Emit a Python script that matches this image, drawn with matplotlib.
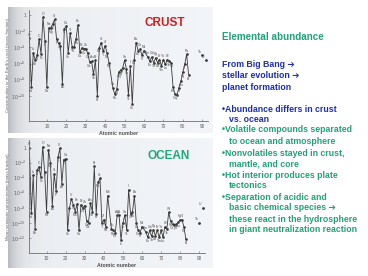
import numpy as np
import matplotlib
matplotlib.use('Agg')
import matplotlib.pyplot as plt

W, H = 368, 276

# element symbols Z = 1..83
symbols = ['H', 'He', 'Li', 'Be', 'B', 'C', 'N', 'O', 'F', 'Ne',
           'Na', 'Mg', 'Al', 'Si', 'P', 'S', 'Cl', 'Ar', 'K', 'Ca',
           'Sc', 'Ti', 'V', 'Cr', 'Mn', 'Fe', 'Co', 'Ni', 'Cu', 'Zn',
           'Ga', 'Ge', 'As', 'Se', 'Br', 'Kr', 'Rb', 'Sr', 'Y', 'Zr',
           'Nb', 'Mo', 'Tc', 'Ru', 'Rh', 'Pd', 'Ag', 'Cd', 'In', 'Sn',
           'Sb', 'Te', 'I', 'Xe', 'Cs', 'Ba', 'La', 'Ce', 'Pr', 'Nd',
           'Pm', 'Sm', 'Eu', 'Gd', 'Tb', 'Dy', 'Ho', 'Er', 'Tm', 'Yb',
           'Lu', 'Hf', 'Ta', 'W', 'Re', 'Os', 'Ir', 'Pt', 'Au', 'Hg',
           'Tl', 'Pb', 'Bi']

# log10 mass fraction (nan = not shown)
crust_log = [-2.9, -8.9, -4.7, -5.6, -5.0, -3.0, -4.8, -0.3, -3.2, -8.9,
             -1.6, -1.6, -1.1, -0.55, -3.0, -3.5, -3.8, -8.5, -1.7, -1.4,
             -4.7, -2.25, -3.9, -4.0, -3.0, -1.25, -4.6, -4.1, -4.2, -4.15,
             -4.7, -5.8, -5.7, -7.3, -5.6, -10.0, -4.05, -3.4, -4.5, -3.8,
             -4.7, -5.9, np.nan, -9.0, -9.8, -9.2, -7.1, -6.8, -6.6, -5.6,
             -6.7, -9.9, -6.3, -11.0, -5.5, -3.4, -4.4, -4.2, -5.0, -4.4,
             np.nan, -5.2, -5.7, -5.2, -5.9, -5.3, -5.9, -5.5, -6.3, -5.5,
             -6.1, -5.5, -5.7, -5.9, -8.9, -9.8, -9.9, -9.0, -8.2, -7.1,
             -6.1, -4.85, -7.4]

ocean_log = [0.0, -8.7, -3.7, -10.8, -3.0, -2.6, -3.9, 0.1, -3.3, -8.5,
             -0.3, -2.0, -7.7, -3.5, -5.8, -1.3, -0.1, -4.8, -1.6, -1.5,
             -11.0, -8.0, -6.8, -7.6, -8.5, -7.5, -11.0, -7.6, -8.0, -7.7,
             -9.8, -10.0, -7.4, -8.5, -2.5, -8.8, -4.6, -4.1, -10.0, -9.6,
             -10.5, -6.4, np.nan, -10.8, -11.0, -11.3, -9.0, -9.0, -12.3, -10.0,
             -9.0, -11.0, -5.6, -8.8, -8.6, -6.4, -10.0, -11.0, -11.3, -10.5,
             np.nan, -11.2, -11.9, -11.0, -11.8, -10.9, -11.7, -11.0, -11.9, -11.0,
             -11.9, -10.5, -10.8, -8.6, -9.8, -10.2, -10.3, -10.2, -9.9, -9.6,
             -9.6, -10.6, -12.2]

# Th (90) and U (92), plotted as separate points
extra_z = [90, 92]
extra_sym = ['Th', 'U']
crust_extra = [-5.0, -5.6]
ocean_extra = [-10.0, -8.0]

x_ticks = [10, 20, 30, 40, 50, 60, 70, 80, 90]

plt.rcParams['font.family'] = ['Liberation Sans', 'DejaVu Sans']

fig = plt.figure(figsize=(W / 100, H / 100), dpi=100)
fig.patch.set_facecolor('white')


def box(x0, y0, x1, y1):
    return [x0 / W, 1 - y1 / H, (x1 - x0) / W, (y1 - y0) / H]


def scan_background(x0, y0, x1, y1):
    bg = fig.add_axes(box(x0, y0, x1, y1))
    t = np.linspace(0, 1, 300)
    shade = 0.93 - 0.20 * np.exp(-t / 0.05) + 0.03 * t
    rgb = np.stack([shade - 0.01, shade, shade + 0.015], axis=-1)
    rgb = np.clip(rgb, 0, 1)[None, :, :]
    bg.imshow(rgb, aspect='auto', extent=[0, 1, 0, 1])
    bg.axis('off')


def label_points(ax, zs, logs, names):
    for i, (z, v, s) in enumerate(zip(zs, logs, names)):
        if np.isnan(v):
            continue
        prev = logs[i - 1] if i > 0 and not np.isnan(logs[i - 1]) else -99
        nxt = logs[i + 1] if i + 1 < len(logs) and not np.isnan(logs[i + 1]) else -99
        if v >= prev and v >= nxt:
            dy, va = 1.2, 'bottom'
        else:
            dy, va = -1.2, 'top'
        ax.annotate(s, (z, 10 ** v), xytext=(0, dy), textcoords='offset points',
                    ha='center', va=va, fontsize=2.4, color='#505050')


def abundance_panel(rect, logs, extra, ylims, ytick_exps, ylabel):
    ax = fig.add_axes(rect)
    ax.patch.set_alpha(0)
    z = np.arange(1, len(logs) + 1)
    v = np.array(logs)
    ok = ~np.isnan(v)
    ax.semilogy(z[ok], 10 ** v[ok], '-', color='#3a3a3a', lw=0.6,
                marker='o', ms=0.9)
    ax.semilogy(extra_z, 10 ** np.array(extra), 'o', color='#3a3a3a', ms=1.0)
    label_points(ax, z, v, symbols)
    for zz, vv, s in zip(extra_z, extra, extra_sym):
        ax.annotate(s, (zz, 10 ** vv), xytext=(-2, 1.2), textcoords='offset points',
                    ha='center', va='bottom', fontsize=2.4, color='#505050')
    ax.set_xlim(0.8, 93)
    ax.set_ylim(10 ** ylims[0], 10 ** ylims[1])
    ax.set_xticks(x_ticks)
    ax.set_xticklabels([str(t) for t in x_ticks])
    ticks = [10.0 ** e for e in ytick_exps]
    ax.set_yticks(ticks)
    ax.set_yticklabels(['1' if e == 0 else '$10^{%d}$' % e for e in ytick_exps])
    ax.minorticks_off()
    ax.tick_params(labelsize=3.4, colors='#606060', length=1.5, width=0.4,
                   direction='in', pad=2)
    for side in ['top', 'right']:
        ax.spines[side].set_visible(False)
    for side in ['left', 'bottom']:
        ax.spines[side].set_color('#707070')
        ax.spines[side].set_linewidth(0.6)
    ax.set_xlabel('Atomic number', fontsize=3.8, color='#505050', labelpad=1.5,
                  fontweight='bold')
    ax.set_ylabel(ylabel, fontsize=3.2, color='#606060', labelpad=1)
    return ax


# top scan: crust
scan_background(8, 7, 213, 133)
ax1 = abundance_panel(box(29, 10, 208, 121), crust_log, crust_extra, (-13.1, 0.62),
                      [0, -2, -4, -6, -8, -10],
                      "Concentration in the Earth's crust (mass fraction)")
fig.text(165 / W, 1 - 23 / H, 'CRUST', color='#cc1f1f', fontsize=8.5,
         fontweight='bold', ha='center', va='center')

# bottom scan: ocean
scan_background(8, 138, 213, 268)
ax2 = abundance_panel(box(29, 140, 205, 253), ocean_log, ocean_extra, (-14.0, 1.0),
                      [0, -2, -4, -6, -8, -10, -12],
                      'Mean seawater concentration (mass fraction)')
fig.text(169 / W, 1 - 156 / H, 'OCEAN', color='#1fa878', fontsize=8.5,
         fontweight='bold', ha='center', va='center')

# slide text
green = '#22a07a'
blue = '#1c2fa6'
fig.text(222 / W, 1 - 37 / H, 'Elemental abundance', color=green, fontsize=7.1,
         fontweight='bold', ha='left', va='center')

lines = [
    (222, 65, 'From Big Bang \u2794', blue),
    (222, 76, 'stellar evolution \u2794', blue),
    (222, 87, 'planet formation', blue),
    (222, 109, '\u2022Abundance differs in crust', blue),
    (229, 119, 'vs. ocean', blue),
    (222, 130, '\u2022Volatile compounds separated', green),
    (229, 141, 'to ocean and atmosphere', green),
    (222, 154, '\u2022Nonvolatiles stayed in crust,', green),
    (229, 164, 'mantle, and core', green),
    (222, 175, '\u2022Hot interior produces plate', green),
    (229, 186, 'tectonics', green),
    (222, 197, '\u2022Separation of acidic and', green),
    (229, 208, 'basic chemical species \u2794', green),
    (229, 219, 'these react in the hydrosphere', green),
    (229, 230, 'in giant neutralization reaction', green),
]
for x, y, s, c in lines:
    fig.text(x / W, 1 - y / H, s, color=c, fontsize=6.3, fontweight='bold',
             ha='left', va='center')

fig.savefig('out.png', dpi=100, facecolor='white')
